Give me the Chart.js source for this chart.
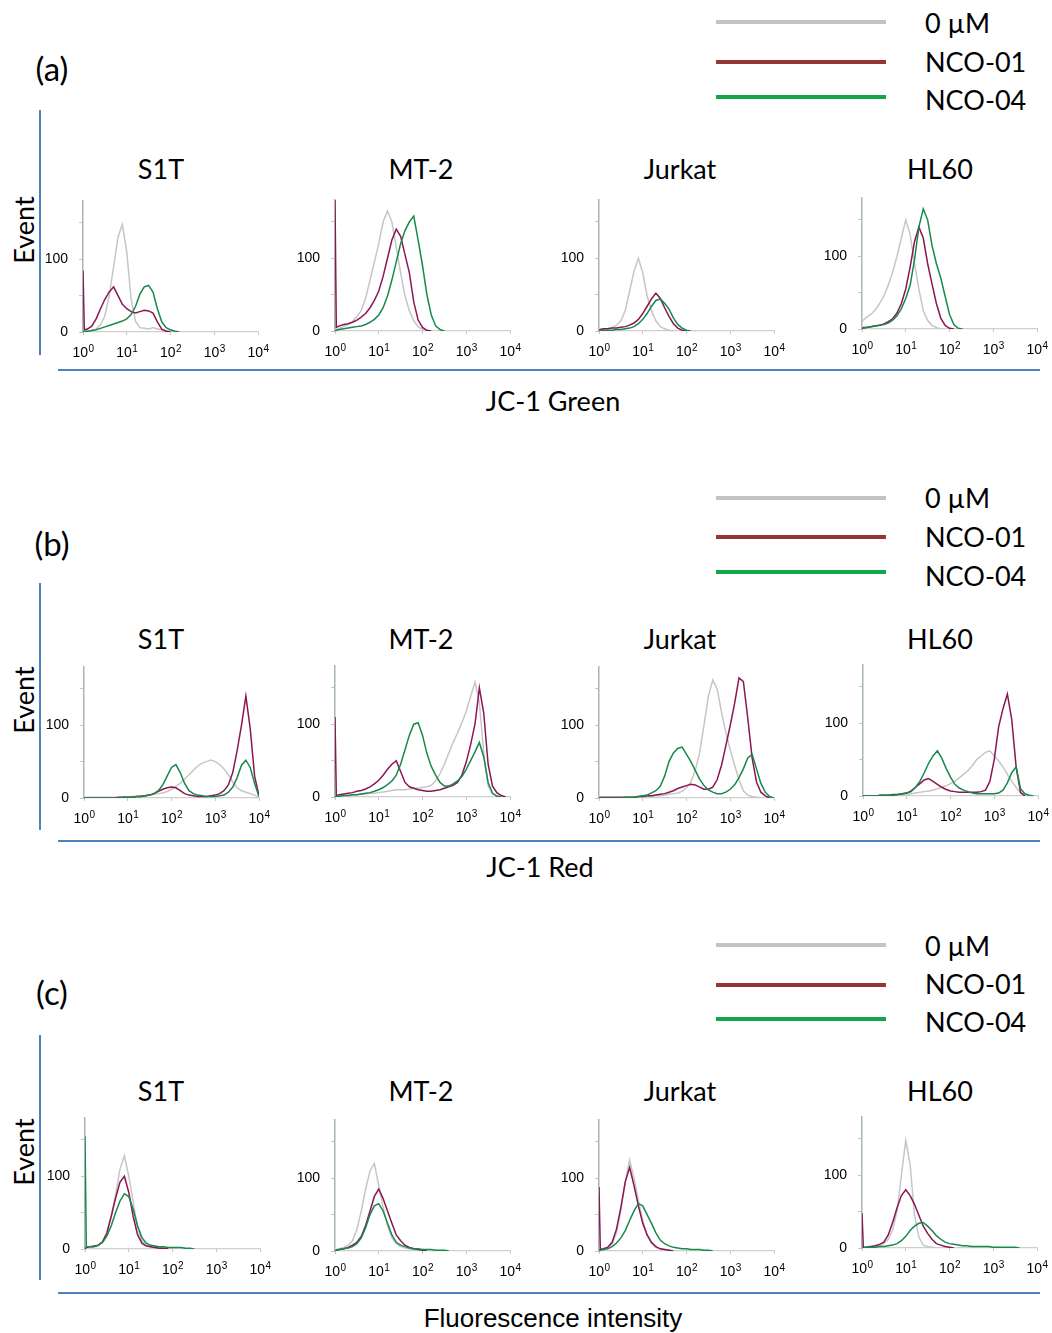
<!DOCTYPE html>
<html>
<head>
<meta charset="utf-8">
<script src="https://cdn.jsdelivr.net/npm/chart.js@4"></script>
<style>
  body { margin: 0; width: 1052px; height: 1333px; position: relative; background: #fff; overflow: hidden; }
  canvas { position: absolute; }
  .t { position: absolute; white-space: nowrap; line-height: 1; color: #000; font-family: Lato, 'Open Sans', sans-serif; }
  .ln { position: absolute; }
</style>
</head>
<body>
<script>
// categories / labels
const cellLines = ['S1T', 'MT-2', 'Jurkat', 'HL60'];
const panelLetters = ['(a)', '(b)', '(c)'];
const xTitles = ['JC-1 Green', 'JC-1 Red', 'Fluorescence intensity'];
const legendLabels = ['0 µM', 'NCO-01', 'NCO-04'];
const xTickExp = [0, 1, 2, 3, 4];
const yTickVals = [0, 50, 100, 150];
const yTickShown = [0, 100];

// log10 of fluorescence for each histogram value below
const gridExp = [0, 0.03, 0.1, 0.2, 0.3, 0.4, 0.5, 0.6, 0.7, 0.8, 0.9, 1.0, 1.1, 1.2, 1.3, 1.4, 1.5, 1.6, 1.7, 1.8, 1.9,
  2.0, 2.1, 2.2, 2.3, 2.4, 2.5, 2.6, 2.7, 2.8, 2.9, 3.0, 3.1, 3.2, 3.3, 3.4, 3.5, 3.6, 3.7, 3.8, 3.9, 4.0];

// (a) JC-1 Green
const aS1T_ctrl = [0,0,1,2,4,10,22,50,90,130,148,110,45,15,6,5,4,6,4,3,2,1,1,0];
const aS1T_n01 = [84,3,4,8,18,32,45,55,62,50,38,32,28,26,28,30,29,26,14,4,1,0];
const aS1T_n04 = [0,1,1,2,3,5,7,9,11,13,15,18,24,35,52,62,64,55,32,14,6,3,1,0];
const aMT2_ctrl = [0,2,4,6,9,13,20,28,45,70,95,120,150,165,150,115,80,48,28,14,6,2,0];
const aMT2_n01 = [180,5,7,9,10,12,15,19,24,32,42,55,75,100,125,140,130,105,80,40,15,5,1,0];
const aMT2_n04 = [0,1,2,3,4,5,6,7,9,12,16,22,32,48,70,95,120,138,150,158,125,90,50,22,7,2,0];
const aJur_ctrl = [0,1,2,3,5,8,14,28,55,82,100,80,48,28,14,6,3,1,0];
const aJur_n01 = [0,2,3,3,4,4,5,6,8,11,16,24,34,44,52,45,32,20,10,4,1,0];
const aJur_n04 = [0,0,1,1,1,2,2,3,4,6,10,16,24,34,42,44,38,30,18,9,4,1,0];
const aHL_ctrl = [10,12,16,20,26,35,45,60,78,100,125,150,130,90,55,25,12,5,2,0];
const aHL_n01 = [0,2,2,3,4,5,7,10,14,22,35,55,85,120,140,125,90,62,35,15,5,1,0];
const aHL_n04 = [0,1,2,3,4,5,6,8,12,18,28,42,60,95,140,165,150,115,90,70,45,20,6,1,0];

// (b) JC-1 Red
const bS1T_ctrl = [0,1,1,1,1,1,1,1,1,1,1,1,2,2,3,3,4,5,6,7,9,12,16,20,26,32,38,44,48,50,52,50,46,40,32,22,14,10,8,6,4,1];
const bS1T_n01 = [0,0,0,0,0,0,0,0,0,1,1,1,1,2,2,3,4,6,9,12,14,15,14,10,6,4,3,2,2,2,3,4,6,10,18,35,65,100,140,95,30,3];
const bS1T_n04 = [0,0,0,0,0,0,0,0,0,0,1,1,1,2,2,3,4,6,10,18,30,42,46,35,20,10,6,4,3,2,2,2,3,4,8,15,28,45,52,42,20,2];
const bMT2_ctrl = [0,1,1,2,2,3,3,4,4,5,5,6,7,8,9,10,10,10,11,12,12,13,14,16,22,32,45,60,75,88,102,118,138,158,130,60,15,5,2,0];
const bMT2_n01 = [110,2,3,4,5,6,8,9,11,14,18,23,30,38,45,50,35,20,14,12,10,9,8,8,9,10,12,14,16,20,30,48,72,100,150,115,45,15,6,2,0];
const bMT2_n04 = [0,1,1,2,2,3,3,4,5,6,8,10,13,17,22,30,45,65,85,100,102,85,60,42,30,20,15,15,18,22,28,38,50,62,75,55,20,5,1,0];
const bJur_ctrl = [0,0,0,0,0,0,0,0,0,1,1,1,2,2,3,3,4,5,6,7,9,14,22,38,62,100,140,162,150,118,90,66,45,25,10,4,2,1,0];
const bJur_n01 = [0,1,1,1,1,1,1,1,1,1,2,2,3,3,4,5,6,8,10,13,15,17,19,18,15,12,12,15,25,45,72,100,130,165,160,110,55,22,8,3,0];
const bJur_n04 = [0,0,0,0,0,0,0,1,1,1,2,3,4,7,10,16,30,50,62,68,70,60,50,38,26,17,11,8,6,6,8,12,18,28,40,55,60,40,20,8,2,0];
const bHL_ctrl = [0,0,0,0,0,0,1,1,1,1,1,2,3,4,5,6,7,8,10,12,14,17,20,25,30,35,42,50,55,60,62,55,48,40,30,20,12,4,1,0];
const bHL_n01 = [0,0,0,0,0,1,1,1,2,2,3,4,7,12,17,22,24,20,16,12,9,7,6,5,5,5,5,5,6,8,20,50,95,120,140,105,40,5,0];
const bHL_n04 = [0,0,0,0,0,1,1,1,1,2,3,4,6,12,20,32,45,55,62,52,38,26,16,11,8,6,4,3,3,3,3,3,4,8,18,32,40,10,3,1,0];

// (c) Fluorescence intensity
const cS1T_ctrl = [0,2,3,3,5,10,22,45,75,110,128,100,65,30,12,5,3,2,1,1,1,0];
const cS1T_n01 = [0,2,3,3,5,10,22,45,70,92,100,78,45,20,8,4,3,2,1,1,0];
const cS1T_n04 = [155,3,3,4,5,9,18,32,50,66,76,72,55,32,16,8,5,4,3,3,2,2,2,2,1,1,0];
const cMT2_ctrl = [0,2,3,5,8,14,30,55,85,110,120,90,60,35,18,10,6,4,3,2,1,0];
const cMT2_n01 = [0,1,2,3,5,8,12,20,35,55,75,85,72,55,38,22,14,8,5,3,2,1,0];
const cMT2_n04 = [0,1,2,3,4,6,10,18,32,50,62,65,55,38,22,12,8,6,4,3,3,2,2,2,1,1,1,0];
const cJur_ctrl = [0,2,3,5,10,25,55,95,125,100,70,42,22,10,5,3,2,1,0];
const cJur_n01 = [88,2,3,5,12,30,60,95,115,90,62,38,22,12,6,3,2,1,0];
const cJur_n04 = [0,1,2,3,6,11,18,28,42,55,65,62,50,38,25,15,10,7,5,4,3,3,2,2,2,1,1,0];
const cHL_ctrl = [0,1,1,1,2,3,6,12,25,50,100,148,115,45,15,4,2,1,0];
const cHL_n01 = [48,1,1,2,3,5,8,18,35,55,72,80,72,60,45,30,20,12,6,4,2,1,0];
const cHL_n04 = [0,0,1,1,1,2,2,3,4,6,10,16,24,30,34,35,30,24,17,12,8,6,5,4,3,3,2,2,2,2,2,1,1,1,1,1,1,0];

const panelSeries = [
  [[aS1T_ctrl, aS1T_n01, aS1T_n04], [aMT2_ctrl, aMT2_n01, aMT2_n04], [aJur_ctrl, aJur_n01, aJur_n04], [aHL_ctrl, aHL_n01, aHL_n04]],
  [[bS1T_ctrl, bS1T_n01, bS1T_n04], [bMT2_ctrl, bMT2_n01, bMT2_n04], [bJur_ctrl, bJur_n01, bJur_n04], [bHL_ctrl, bHL_n01, bHL_n04]],
  [[cS1T_ctrl, cS1T_n01, cS1T_n04], [cMT2_ctrl, cMT2_n01, cMT2_n04], [cJur_ctrl, cJur_n01, cJur_n04], [cHL_ctrl, cHL_n01, cHL_n04]]
];

// colours
const lineColors = ['#c6c6c6', '#8c1654', '#17894a'];
const legendColors = ['#c3c3c3', '#963634', '#12a54b'];

// page layout (pixels)
const plotLeft = [[83, 335, 599, 862], [84, 335, 599, 863], [85, 335, 599, 862]];
const plotZero = [[332, 331, 331, 329], [798, 797, 798, 796], [1249, 1251, 1251, 1248]];
const PLOT_W = 175, PLOT_H = 131, PAD_TOP = 24, PAD_RIGHT = 26, Y_AXIS_W = 50, X_AXIS_H = 28;
const layout = [
  { leg: [22, 62, 97], legTxt: [22, 61, 99], letter: 68, vline: [110, 355], title: 168, hline: 370, xTitle: [553, 400], event: 230 },
  { leg: [498, 537, 572], legTxt: [497, 536, 575], letter: 543, vline: [583, 830], title: 638, hline: 841, xTitle: [540, 866], event: 700 },
  { leg: [945, 985, 1019], legTxt: [945, 983, 1021], letter: 992, vline: [1035, 1280], title: 1090, hline: 1293, xTitle: [553, 1318], event: 1152 }
];
const titleX = [161, 421, 680, 940];

const TICK_FONT = "'Liberation Sans', Arial, sans-serif";
Chart.defaults.font.family = TICK_FONT;
Chart.defaults.font.size = 14;
Chart.defaults.color = '#000';

// draws "10" with a raised exponent under each decade of the log axis
const powerTicks = {
  id: 'powerTicks',
  afterDraw: function (chart) {
    let xs = chart.scales.x;
    let ctx = chart.ctx;
    ctx.save();
    ctx.fillStyle = '#000';
    ctx.textBaseline = 'alphabetic';
    xTickExp.forEach(function (e) {
      let px = xs.getPixelForValue(Math.pow(10, e));
      ctx.font = '14px ' + TICK_FONT;
      let w1 = ctx.measureText('10').width;
      ctx.font = '10px ' + TICK_FONT;
      let w2 = ctx.measureText(String(e)).width;
      let x0 = px - (w1 + w2) / 2;
      let base = xs.top + 25;
      ctx.font = '14px ' + TICK_FONT;
      ctx.fillText('10', x0, base);
      ctx.font = '10px ' + TICK_FONT;
      ctx.fillText(String(e), x0 + w1 + 0.5, base - 5);
    });
    ctx.restore();
  }
};

function addText(str, x, y, size, anchor, family, rotate) {
  let d = document.createElement('div');
  d.className = 't';
  d.textContent = str;
  d.style.left = x + 'px';
  d.style.top = y + 'px';
  d.style.fontSize = size + 'px';
  if (family) d.style.fontFamily = family;
  let tr = anchor == 'left' ? 'translate(0,-50%)' : 'translate(-50%,-50%)';
  if (rotate) tr += ' rotate(' + rotate + 'deg)';
  d.style.transform = tr;
  document.body.appendChild(d);
}

function addLine(x, y, w, h, color) {
  let d = document.createElement('div');
  d.className = 'ln';
  d.style.left = x + 'px';
  d.style.top = y + 'px';
  d.style.width = w + 'px';
  d.style.height = h + 'px';
  d.style.background = color;
  document.body.appendChild(d);
}

function toPoints(vals) {
  return vals.map(function (v, i) { return { x: Math.pow(10, gridExp[i]), y: v }; });
}

function drawHist(left, zero, series) {
  let cv = document.createElement('canvas');
  cv.width = Y_AXIS_W + PLOT_W + PAD_RIGHT;
  cv.height = PAD_TOP + PLOT_H + X_AXIS_H;
  cv.style.left = (left - Y_AXIS_W) + 'px';
  cv.style.top = (zero - PLOT_H - PAD_TOP) + 'px';
  document.body.appendChild(cv);

  // gray drawn first, green last (on top)
  let sets = series.map(function (vals, k) {
    return {
      data: toPoints(vals),
      borderColor: lineColors[k],
      borderWidth: 1.5,
      pointRadius: 0,
      tension: 0,
      fill: false,
      order: 2 - k
    };
  });

  new Chart(cv.getContext('2d'), {
    type: 'line',
    data: { datasets: sets },
    plugins: [powerTicks],
    options: {
      responsive: false,
      animation: false,
      layout: { padding: { top: PAD_TOP, right: PAD_RIGHT, left: 0, bottom: 0 } },
      plugins: { legend: { display: false }, tooltip: { enabled: false } },
      scales: {
        x: {
          type: 'logarithmic',
          min: 1,
          max: 10000,
          afterBuildTicks: function (s) { s.ticks = xTickExp.map(function (e) { return { value: Math.pow(10, e) }; }); },
          afterFit: function (s) { s.height = X_AXIS_H; },
          ticks: { display: false },
          grid: { drawOnChartArea: false, tickLength: 3, color: '#c4c4c4' },
          border: { color: '#cfcfcf', width: 1.2 }
        },
        y: {
          min: 0,
          max: 180,
          afterBuildTicks: function (s) { s.ticks = yTickVals.map(function (v) { return { value: v }; }); },
          afterFit: function (s) { s.width = Y_AXIS_W; },
          ticks: {
            padding: 11,
            callback: function (v) { return yTickShown.indexOf(v) >= 0 ? String(v) : ''; }
          },
          grid: { drawOnChartArea: false, tickLength: 4, color: '#c4c4c4' },
          border: { color: '#a7b7b1', width: 1.5 }
        }
      }
    }
  });
}

for (let p = 0; p < 3; p++) {
  let L = layout[p];
  // legend
  for (let k = 0; k < 3; k++) {
    addLine(716, L.leg[k] - 2, 170, 4, legendColors[k]);
    addText(legendLabels[k], 925, L.legTxt[k], 27, 'left');
  }
  addText(panelLetters[p], 52, L.letter, 33, 'center');
  addText('Event', 23, L.event, 27, 'center', null, -90);
  addLine(39, L.vline[0], 2, L.vline[1] - L.vline[0], '#4f81bd');
  addLine(58, L.hline - 1, 982, 2, '#4f81bd');
  if (p == 2) {
    addText(xTitles[p], L.xTitle[0], L.xTitle[1], 26, 'center', TICK_FONT);
  } else {
    addText(xTitles[p], L.xTitle[0], L.xTitle[1], 27, 'center');
  }
  for (let c = 0; c < 4; c++) {
    addText(cellLines[c], titleX[c], L.title, 27, 'center');
    drawHist(plotLeft[p][c], plotZero[p][c], panelSeries[p][c]);
  }
}
</script>
</body>
</html>
